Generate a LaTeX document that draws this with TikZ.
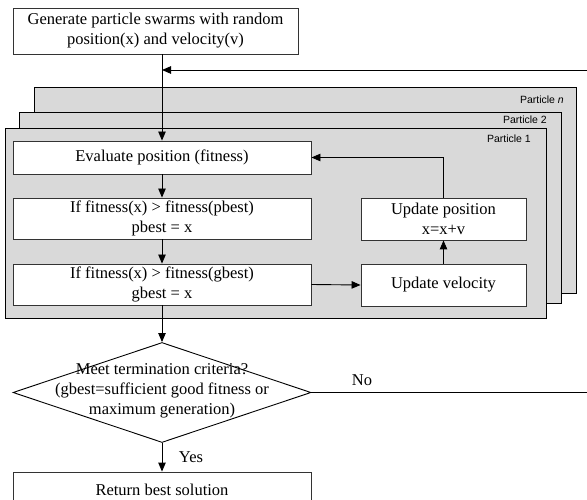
\documentclass[tikz,border=0pt]{standalone}
\usepackage{fontspec}
\setmainfont{Liberation Serif}
\newfontfamily\lsans{Liberation Sans}
\usetikzlibrary{arrows.meta,shapes.geometric}
\definecolor{panel}{HTML}{D9D9D9}
\begin{document}
\begin{tikzpicture}[x=1pt,y=-1pt,
  every node/.style={font=\fontsize{16.5}{20}\selectfont},
  box/.style={draw=black!80, fill=white, line width=0.9pt, inner sep=0pt, align=center},
  panelbox/.style={draw=black, fill=panel, line width=1pt, inner sep=0pt, anchor=north west},
  plabel/.style={font=\lsans\fontsize{10.5}{12}\selectfont, anchor=east, inner sep=0pt},
  arr/.style={line width=0.9pt, -{Triangle[length=9pt,width=7.5pt]}},
  ln/.style={line width=0.9pt}]
\useasboundingbox (0,0) rectangle (587,500);

% top box
\node[box, minimum width=285pt, minimum height=46pt] (gen) at (155.5,31)
  {Generate particle swarms with random\\position(x) and velocity(v)};

% particle panels
\node[panelbox, minimum width=542pt, minimum height=206pt] (pn) at (34,87) {};
\node[plabel] (pnl) at (564,100) {Particle \textit{n}};
\node[panelbox, minimum width=542pt, minimum height=191pt] (p2) at (19,112) {};
\node[plabel] (p2l) at (547,120) {Particle 2};
\node[panelbox, minimum width=541pt, minimum height=190pt] (p1) at (5,128) {};
\node[plabel] (p1l) at (531,139) {Particle 1};

% inner boxes
\node[box, minimum width=298pt, minimum height=33pt] (eval) at (162,157.5)
  {Evaluate position (fitness)};
\node[box, minimum width=298pt, minimum height=41pt] (pb) at (162,218.5)
  {If fitness(x) > fitness(pbest)\\pbest = x};
\node[box, minimum width=298pt, minimum height=41pt] (gb) at (162,284.5)
  {If fitness(x) > fitness(gbest)\\gbest = x};
\node[box, minimum width=165pt, minimum height=42pt] (pos) at (443.5,219)
  {Update position\\x=x+v};
\node[box, minimum width=165pt, minimum height=42pt] (vel) at (443.5,285)
  {Update velocity};

% decision
\node[diamond, draw=black, line width=0.9pt, fill=white, inner sep=0pt,
  minimum width=298pt, minimum height=100pt] (dec) at (162,392.5) {};
\node[align=center, inner sep=0pt] (dect) at (162,391)
  {Meet termination criteria?\\(gbest=sufficient good fitness or\\maximum generation)};

% return
\node[box, minimum width=298pt, minimum height=36pt] (ret) at (162,490)
  {Return best solution};

% labels
\node (no) at (362,380) {No};
\node (yes) at (191,457) {Yes};

% connectors
\coordinate (fb) at (162,70);
\coordinate (fbc) at (600,392.5);
\draw[arr] (gen.south -| eval.north) -- (eval.north);
\draw[arr] (fbc) |- (fb);
\draw[ln] (dec.east) -- (fbc);
\draw[arr] (eval.south) -- (pb.north);
\draw[arr] (pb.south) -- (gb.north);
\draw[arr] (gb.east) -- (vel.west);
\draw[arr] (vel.north) -- (pos.south);
\draw[arr] (pos.north) |- (eval.east);
\draw[arr] (gb.south) -- (dec.north);
\draw[arr] (dec.south) -- (ret.north);
\end{tikzpicture}
\end{document}
